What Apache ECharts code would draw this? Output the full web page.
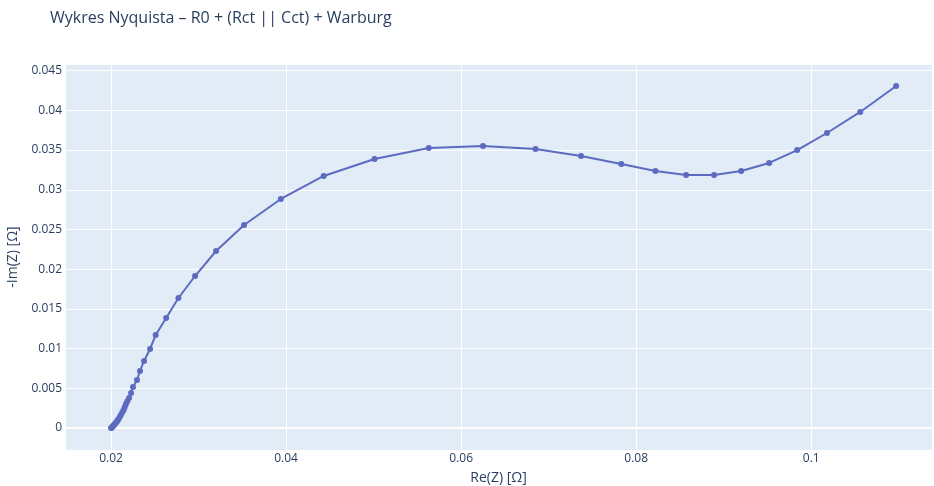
<!DOCTYPE html>
<html>
<head>
<meta charset="utf-8">
<script src="https://cdn.jsdelivr.net/npm/echarts@6/dist/echarts.min.js"></script>
<style>
  html, body { margin: 0; padding: 0; background: #fff; }
  #main { width: 934px; height: 486px; }
</style>
</head>
<body>
<div id="main"></div>
<script>
// Re(Z) values, ohm (from high to low frequency)
var reZ = [
  0.02000, 0.02008, 0.02017, 0.02026, 0.02036, 0.02046, 0.02055, 0.02065,
  0.02074, 0.02083, 0.02099, 0.02114, 0.02129, 0.02145, 0.02157, 0.02171,
  0.02186, 0.02206, 0.02229, 0.02251, 0.02297, 0.02331, 0.02377, 0.02446,
  0.0251, 0.0263, 0.0277, 0.0296, 0.0320, 0.0352, 0.0394, 0.0443,
  0.0501, 0.0563, 0.0625, 0.0685, 0.0737, 0.0783, 0.0822, 0.0857,
  0.0889, 0.0920, 0.0952, 0.0984, 0.1018, 0.1056, 0.1097
];
// -Im(Z) values, ohm
var negImZ = [
  0.00000, 0.00004, 0.00015, 0.00029, 0.00041, 0.00054, 0.00066, 0.00079,
  0.00094, 0.00110, 0.00139, 0.00168, 0.00198, 0.00230, 0.00264, 0.00302,
  0.00336, 0.00378, 0.00441, 0.00516, 0.00605, 0.00718, 0.00844, 0.00995,
  0.01171, 0.01385, 0.01637, 0.01914, 0.02229, 0.02557, 0.02884, 0.03174,
  0.03388, 0.03526, 0.03552, 0.03514, 0.03426, 0.03325, 0.03237, 0.03186,
  0.03186, 0.03237, 0.03338, 0.03500, 0.03715, 0.03980, 0.04307
];

var points = reZ.map(function (x, i) { return [x, negImZ[i]]; });

var txt = '#2a3f5f';
var font = '"Open Sans", verdana, arial, sans-serif';

var myChart = echarts.init(document.getElementById('main'), null, { renderer: 'canvas' });
var option = {
  animation: false,
  backgroundColor: '#ffffff',
  title: {
    text: 'Wykres Nyquista – R0 + (Rct || Cct) + Warburg',
    left: 45,
    top: 5,
    textStyle: { color: txt, fontSize: 16, fontWeight: 'normal', fontFamily: font }
  },
  grid: {
    left: 65, right: 2, top: 64, bottom: 36,
    outerBoundsMode: 'none',
    containLabel: false,
    show: true, backgroundColor: '#e1ecf7', borderWidth: 0
  },
  xAxis: {
    type: 'value',
    min: 0.01474,
    max: 0.1138,
    minInterval: 0.02,
    maxInterval: 0.02,
    name: 'Re(Z) [Ω]',
    nameLocation: 'middle',
    nameGap: 21,
    nameTextStyle: { color: txt, fontSize: 14, fontFamily: font },
    axisLine: { show: false },
    axisTick: { show: false },
    axisLabel: { color: txt, fontSize: 12, fontFamily: font, margin: 3, showMinLabel: false, showMaxLabel: false },
    splitLine: { show: true, lineStyle: { color: '#ffffff', width: 1 } }
  },
  yAxis: {
    type: 'value',
    min: -0.00277,
    max: 0.04584,
    minInterval: 0.005,
    maxInterval: 0.005,
    name: '-Im(Z) [Ω]',
    nameLocation: 'middle',
    nameGap: 44,
    nameTextStyle: { color: txt, fontSize: 14, fontFamily: font },
    axisLine: { show: false },
    axisTick: { show: false },
    axisLabel: { color: txt, fontSize: 12, fontFamily: font, margin: 3, showMinLabel: false, showMaxLabel: false },
    splitLine: { show: true, lineStyle: { color: '#ffffff', width: 1 } }
  },
  series: [{
    type: 'line',
    data: points,
    symbol: 'circle',
    symbolSize: 6,
    lineStyle: { color: '#5c6bc0', width: 2 },
    itemStyle: { color: '#5c6bc0' },
    markLine: {
      silent: true,
      symbol: 'none',
      label: { show: false },
      lineStyle: { color: '#ffffff', width: 2, type: 'solid' },
      data: [{ yAxis: 0 }],
      z: 1
    }
  }]
};
myChart.setOption(option);
</script>
</body>
</html>
